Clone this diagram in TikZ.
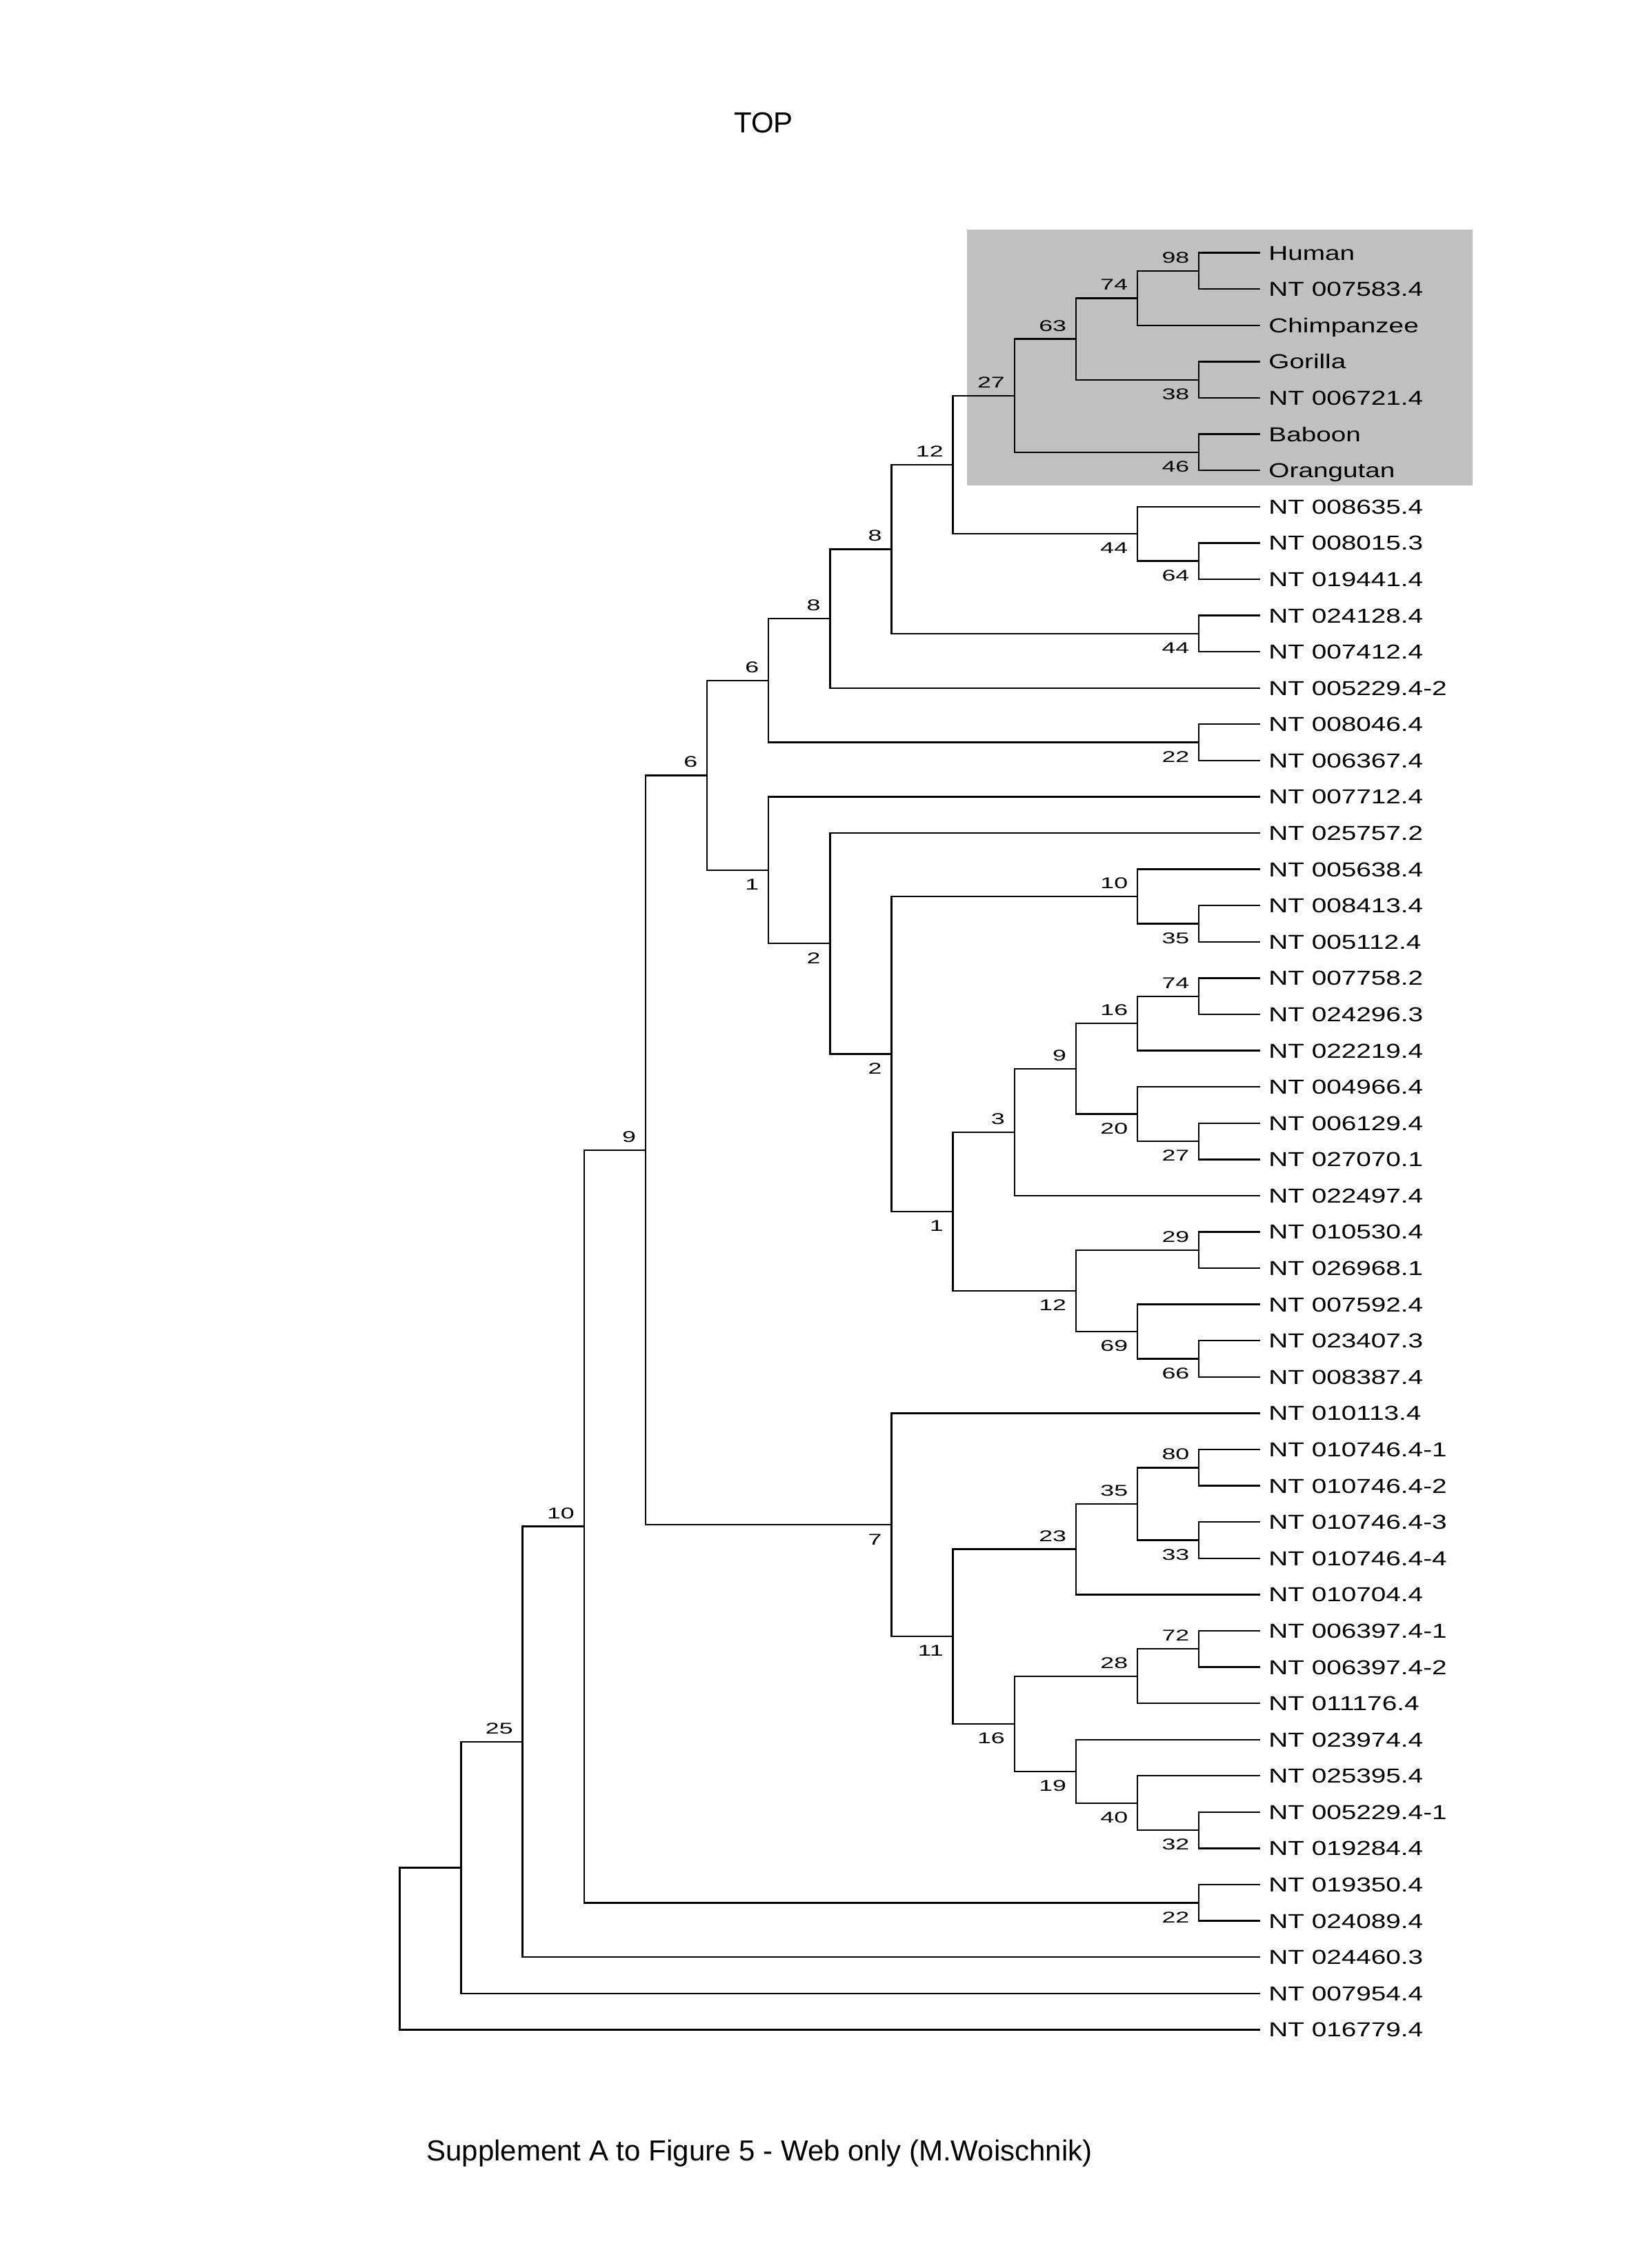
\documentclass[tikz,border=0pt]{standalone}
\usepackage{fontspec}
\setmainfont{Liberation Sans}
\newfontfamily\leaffont[FakeStretch=1.32]{Liberation Sans}
\newfontfamily\bootfont[FakeStretch=1.58]{Liberation Sans}
\definecolor{boxgray}{RGB}{192,192,192}

\tikzset{
  branch/.style={line width=0.6pt},
  leaf/.style={anchor=base west, inner sep=0pt, xshift=0.1cm, yshift=-0.093cm,
    font=\leaffont\fontsize{7.4}{8}\selectfont},
  bup/.style={anchor=base east, inner sep=0pt, xshift=-0.117cm, yshift=0.102cm,
    font=\bootfont\fontsize{5.7}{6}\selectfont},
  bdown/.style={anchor=base east, inner sep=0pt, xshift=-0.117cm, yshift=-0.255cm,
    font=\bootfont\fontsize{5.7}{6}\selectfont},
  heading/.style={anchor=base west, inner sep=0pt, font=\fontsize{10.6}{12}\selectfont}
}

\begin{document}
\begin{tikzpicture}[x=0.79054cm, y=-0.46633cm]
          \useasboundingbox (-6.4988,-5.9725) rectangle (20.0659,56.5724);

          \node[heading] (title) at (5.43,-2.307) {TOP};
          \node[heading] (caption) at (0.43,53.617) {Supplement A to Figure 5 - Web only (M.Woischnik)};

          % primates
          \fill[boxgray] (9.226,0.354) rectangle (17.454,7.414);

          % leaves
          \path (14,1) coordinate (l1) node[leaf] (n1) {Human};
          \path (14,2) coordinate (l2) node[leaf] (n2) {NT 007583.4};
          \path (14,3) coordinate (l3) node[leaf] (n3) {Chimpanzee};
          \path (14,4) coordinate (l4) node[leaf] (n4) {Gorilla};
          \path (14,5) coordinate (l5) node[leaf] (n5) {NT 006721.4};
          \path (14,6) coordinate (l6) node[leaf] (n6) {Baboon};
          \path (14,7) coordinate (l7) node[leaf] (n7) {Orangutan};
          \path (14,8) coordinate (l8) node[leaf] (n8) {NT 008635.4};
          \path (14,9) coordinate (l9) node[leaf] (n9) {NT 008015.3};
          \path (14,10) coordinate (l10) node[leaf] (n10) {NT 019441.4};
          \path (14,11) coordinate (l11) node[leaf] (n11) {NT 024128.4};
          \path (14,12) coordinate (l12) node[leaf] (n12) {NT 007412.4};
          \path (14,13) coordinate (l13) node[leaf] (n13) {NT 005229.4-2};
          \path (14,14) coordinate (l14) node[leaf] (n14) {NT 008046.4};
          \path (14,15) coordinate (l15) node[leaf] (n15) {NT 006367.4};
          \path (14,16) coordinate (l16) node[leaf] (n16) {NT 007712.4};
          \path (14,17) coordinate (l17) node[leaf] (n17) {NT 025757.2};
          \path (14,18) coordinate (l18) node[leaf] (n18) {NT 005638.4};
          \path (14,19) coordinate (l19) node[leaf] (n19) {NT 008413.4};
          \path (14,20) coordinate (l20) node[leaf] (n20) {NT 005112.4};
          \path (14,21) coordinate (l21) node[leaf] (n21) {NT 007758.2};
          \path (14,22) coordinate (l22) node[leaf] (n22) {NT 024296.3};
          \path (14,23) coordinate (l23) node[leaf] (n23) {NT 022219.4};
          \path (14,24) coordinate (l24) node[leaf] (n24) {NT 004966.4};
          \path (14,25) coordinate (l25) node[leaf] (n25) {NT 006129.4};
          \path (14,26) coordinate (l26) node[leaf] (n26) {NT 027070.1};
          \path (14,27) coordinate (l27) node[leaf] (n27) {NT 022497.4};
          \path (14,28) coordinate (l28) node[leaf] (n28) {NT 010530.4};
          \path (14,29) coordinate (l29) node[leaf] (n29) {NT 026968.1};
          \path (14,30) coordinate (l30) node[leaf] (n30) {NT 007592.4};
          \path (14,31) coordinate (l31) node[leaf] (n31) {NT 023407.3};
          \path (14,32) coordinate (l32) node[leaf] (n32) {NT 008387.4};
          \path (14,33) coordinate (l33) node[leaf] (n33) {NT 010113.4};
          \path (14,34) coordinate (l34) node[leaf] (n34) {NT 010746.4-1};
          \path (14,35) coordinate (l35) node[leaf] (n35) {NT 010746.4-2};
          \path (14,36) coordinate (l36) node[leaf] (n36) {NT 010746.4-3};
          \path (14,37) coordinate (l37) node[leaf] (n37) {NT 010746.4-4};
          \path (14,38) coordinate (l38) node[leaf] (n38) {NT 010704.4};
          \path (14,39) coordinate (l39) node[leaf] (n39) {NT 006397.4-1};
          \path (14,40) coordinate (l40) node[leaf] (n40) {NT 006397.4-2};
          \path (14,41) coordinate (l41) node[leaf] (n41) {NT 011176.4};
          \path (14,42) coordinate (l42) node[leaf] (n42) {NT 023974.4};
          \path (14,43) coordinate (l43) node[leaf] (n43) {NT 025395.4};
          \path (14,44) coordinate (l44) node[leaf] (n44) {NT 005229.4-1};
          \path (14,45) coordinate (l45) node[leaf] (n45) {NT 019284.4};
          \path (14,46) coordinate (l46) node[leaf] (n46) {NT 019350.4};
          \path (14,47) coordinate (l47) node[leaf] (n47) {NT 024089.4};
          \path (14,48) coordinate (l48) node[leaf] (n48) {NT 024460.3};
          \path (14,49) coordinate (l49) node[leaf] (n49) {NT 007954.4};
          \path (14,50) coordinate (l50) node[leaf] (n50) {NT 016779.4};

          % joints with bootstrap values
          \path (13,1.5) coordinate (a98) node[bup] (a98v) {98};
          \path (12,2.25) coordinate (a74) node[bup] (a74v) {74};
          \path (13,4.5) coordinate (a38) node[bdown] (a38v) {38};
          \path (11,3.375) coordinate (a63) node[bup] (a63v) {63};
          \path (13,6.5) coordinate (a46) node[bdown] (a46v) {46};
          \path (10,4.9375) coordinate (a27) node[bup] (a27v) {27};
          \path (13,9.5) coordinate (a64) node[bdown] (a64v) {64};
          \path (12,8.75) coordinate (a44) node[bdown] (a44v) {44};
          \path (9,6.8438) coordinate (a12) node[bup] (a12v) {12};
          \path (13,11.5) coordinate (b44) node[bdown] (b44v) {44};
          \path (8,9.1719) coordinate (b8) node[bup] (b8v) {8};
          \path (7,11.0859) coordinate (c8) node[bup] (c8v) {8};
          \path (13,14.5) coordinate (d22) node[bdown] (d22v) {22};
          \path (6,12.793) coordinate (c6) node[bup] (c6v) {6};
          \path (13,19.5) coordinate (e35) node[bdown] (e35v) {35};
          \path (12,18.75) coordinate (e10) node[bup] (e10v) {10};
          \path (13,21.5) coordinate (f74) node[bup] (f74v) {74};
          \path (12,22.25) coordinate (f16) node[bup] (f16v) {16};
          \path (13,25.5) coordinate (f27) node[bdown] (f27v) {27};
          \path (12,24.75) coordinate (f20) node[bdown] (f20v) {20};
          \path (11,23.5) coordinate (f9) node[bup] (f9v) {9};
          \path (10,25.25) coordinate (f3) node[bup] (f3v) {3};
          \path (13,28.5) coordinate (g29) node[bup] (g29v) {29};
          \path (13,31.5) coordinate (g66) node[bdown] (g66v) {66};
          \path (12,30.75) coordinate (g69) node[bdown] (g69v) {69};
          \path (11,29.625) coordinate (g12) node[bdown] (g12v) {12};
          \path (9,27.4375) coordinate (g1) node[bdown] (g1v) {1};
          \path (8,23.0938) coordinate (f2) node[bdown] (f2v) {2};
          \path (7,20.0469) coordinate (h2) node[bdown] (h2v) {2};
          \path (6,18.0234) coordinate (h1) node[bdown] (h1v) {1};
          \path (5,15.4082) coordinate (d6) node[bup] (d6v) {6};
          \path (13,34.5) coordinate (m80) node[bup] (m80v) {80};
          \path (13,36.5) coordinate (m33) node[bdown] (m33v) {33};
          \path (12,35.5) coordinate (m35) node[bup] (m35v) {35};
          \path (11,36.75) coordinate (m23) node[bup] (m23v) {23};
          \path (13,39.5) coordinate (p72) node[bup] (p72v) {72};
          \path (12,40.25) coordinate (p28) node[bup] (p28v) {28};
          \path (13,44.5) coordinate (q32) node[bdown] (q32v) {32};
          \path (12,43.75) coordinate (q40) node[bdown] (q40v) {40};
          \path (11,42.875) coordinate (q19) node[bdown] (q19v) {19};
          \path (10,41.5625) coordinate (p16) node[bdown] (p16v) {16};
          \path (9,39.1563) coordinate (n11) node[bdown] (n11v) {11};
          \path (8,36.0781) coordinate (n7) node[bdown] (n7v) {7};
          \path (4,25.7432) coordinate (k9) node[bup] (k9v) {9};
          \path (13,46.5) coordinate (r22) node[bdown] (r22v) {22};
          \path (3,36.1216) coordinate (r10) node[bup] (r10v) {10};
          \path (2,42.0608) coordinate (s25) node[bup] (s25v) {25};
          \coordinate (x1) at (1,45.5304);
          \coordinate (x0) at (0,47.7652);

          % branches
          \draw[branch] (l1) -| (a98) |- (l2);
          \draw[branch] (a98) -| (a74) |- (l3);
          \draw[branch] (l4) -| (a38) |- (l5);
          \draw[branch] (a74) -| (a63) |- (a38);
          \draw[branch] (l6) -| (a46) |- (l7);
          \draw[branch] (a63) -| (a27) |- (a46);
          \draw[branch] (l9) -| (a64) |- (l10);
          \draw[branch] (l8) -| (a44) |- (a64);
          \draw[branch] (a27) -| (a12) |- (a44);
          \draw[branch] (l11) -| (b44) |- (l12);
          \draw[branch] (a12) -| (b8) |- (b44);
          \draw[branch] (b8) -| (c8) |- (l13);
          \draw[branch] (l14) -| (d22) |- (l15);
          \draw[branch] (c8) -| (c6) |- (d22);
          \draw[branch] (l19) -| (e35) |- (l20);
          \draw[branch] (l18) -| (e10) |- (e35);
          \draw[branch] (l21) -| (f74) |- (l22);
          \draw[branch] (f74) -| (f16) |- (l23);
          \draw[branch] (l25) -| (f27) |- (l26);
          \draw[branch] (l24) -| (f20) |- (f27);
          \draw[branch] (f16) -| (f9) |- (f20);
          \draw[branch] (f9) -| (f3) |- (l27);
          \draw[branch] (l28) -| (g29) |- (l29);
          \draw[branch] (l31) -| (g66) |- (l32);
          \draw[branch] (l30) -| (g69) |- (g66);
          \draw[branch] (g29) -| (g12) |- (g69);
          \draw[branch] (f3) -| (g1) |- (g12);
          \draw[branch] (e10) -| (f2) |- (g1);
          \draw[branch] (l17) -| (h2) |- (f2);
          \draw[branch] (l16) -| (h1) |- (h2);
          \draw[branch] (c6) -| (d6) |- (h1);
          \draw[branch] (l34) -| (m80) |- (l35);
          \draw[branch] (l36) -| (m33) |- (l37);
          \draw[branch] (m80) -| (m35) |- (m33);
          \draw[branch] (m35) -| (m23) |- (l38);
          \draw[branch] (l39) -| (p72) |- (l40);
          \draw[branch] (p72) -| (p28) |- (l41);
          \draw[branch] (l44) -| (q32) |- (l45);
          \draw[branch] (l43) -| (q40) |- (q32);
          \draw[branch] (l42) -| (q19) |- (q40);
          \draw[branch] (p28) -| (p16) |- (q19);
          \draw[branch] (m23) -| (n11) |- (p16);
          \draw[branch] (l33) -| (n7) |- (n11);
          \draw[branch] (d6) -| (k9) |- (n7);
          \draw[branch] (l46) -| (r22) |- (l47);
          \draw[branch] (k9) -| (r10) |- (r22);
          \draw[branch] (r10) -| (s25) |- (l48);
          \draw[branch] (s25) -| (x1) |- (l49);
          \draw[branch] (x1) -| (x0) |- (l50);

        \end{tikzpicture}
\end{document}
